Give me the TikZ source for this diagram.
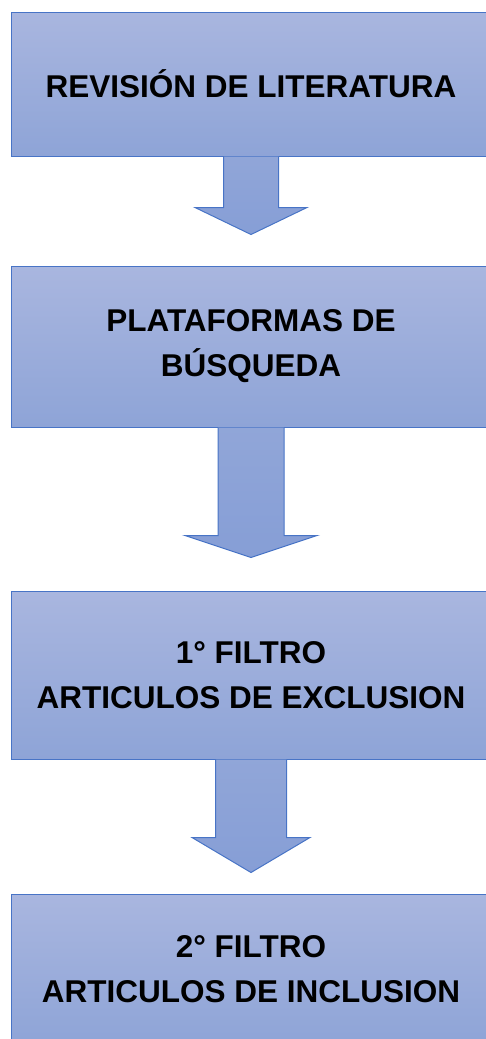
\documentclass[tikz,border=0pt]{standalone}
\usepackage{fontspec}
\setmainfont{Liberation Sans}
\usepackage{tikz}
\usetikzlibrary{calc}

\definecolor{cajaArriba}{RGB}{169,182,223}
\definecolor{cajaAbajo}{RGB}{142,164,215}
\definecolor{flechaAbajo}{RGB}{134,158,214}
\definecolor{borde}{RGB}{72,116,198}

\tikzset{
    caja/.style = {draw=borde, line width=1pt, top color=cajaArriba, bottom color=cajaAbajo,
                   minimum width=480pt, align=center, inner sep=0pt,
                   font=\fontsize{31.5}{45}\selectfont\bfseries},
    flecha/.style = {draw=borde, line width=1pt, top color=cajaAbajo!90!cajaArriba, bottom color=flechaAbajo}
}

% block arrow below a box: node, shaft half width, head half width, shaft end, tip
\newcommand{\flecha}[5]{
    \shadedraw[flecha] ($(#1.south)+(-#2,0)$) -- ($(#1.south)+(-#2,#4)$) -- ($(#1.south)+(-#3,#4)$)
        -- ($(#1.south)+(0,#5)$) -- ($(#1.south)+(#3,#4)$) -- ($(#1.south)+(#2,#4)$) -- ($(#1.south)+(#2,0)$);
}

\begin{document}
\begin{tikzpicture}[x=1pt, y=-1pt]
    \useasboundingbox (0,0) rectangle (486,1039);
    \clip (0,0) rectangle (486,1039);
    % Boxes
    \node[caja, minimum height=144pt] (revision) at (251,84) {REVISIÓN DE LITERATURA};
    \node[caja, minimum height=161pt] (plataformas) at (251,346.5) {PLATAFORMAS DE\\BÚSQUEDA};
    \node[caja, minimum height=168pt] (filtroUno) at (251,675) {1° FILTRO\\ARTICULOS DE EXCLUSION};
    \node[caja, minimum height=151pt] (filtroDos) at (251,969.5) {2° FILTRO\\ARTICULOS DE INCLUSION};
    % Arrows
    \flecha{revision}{27.5}{56}{51}{78}
    \flecha{plataformas}{33}{66}{108}{130}
    \flecha{filtroUno}{35.5}{59}{78}{113}
\end{tikzpicture}
\end{document}
